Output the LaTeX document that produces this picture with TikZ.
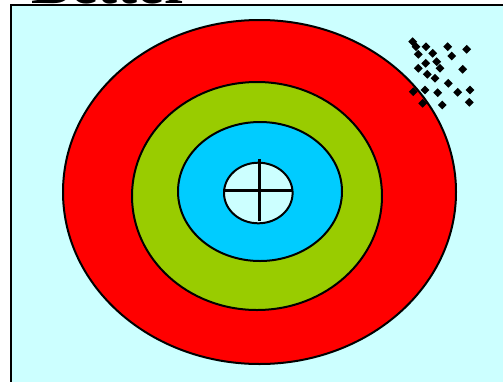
\documentclass[tikz,border=0pt]{standalone}
\usepackage{fontspec}
\setmainfont{Liberation Serif}
\usetikzlibrary{shapes.geometric}
\definecolor{bgcyan}{HTML}{CCFFFF}
\definecolor{ringred}{HTML}{FF0000}
\definecolor{ringgreen}{HTML}{99CC00}
\definecolor{ringblue}{HTML}{00CCFF}
\tikzset{
  ring/.style={draw=black, line width=2pt},
  shot/.style={diamond, fill=black, inner sep=0pt, minimum size=9pt},
  crossline/.style={draw=black, line width=2.6pt}
}
\begin{document}
\begin{tikzpicture}[x=1pt,y=-1pt]
\useasboundingbox (0,0) rectangle (503,381);
\fill[white] (0,0) rectangle (503,381);
\draw[fill=bgcyan, line width=2.5pt] (11,5) rectangle (520,400);
\node[anchor=base west, inner sep=0pt, font=\fontsize{60}{60}\selectfont\bfseries] (title) at (31,3.5) {Better};
\draw[ring, fill=ringred] (259.5,192) ellipse [x radius=196.5, y radius=172];
\draw[ring, fill=ringgreen] (257,196) ellipse [x radius=125, y radius=114];
\draw[ring, fill=ringblue] (260,191.5) ellipse [x radius=82, y radius=69.5];
\draw[ring, fill=bgcyan] (258.3,193) ellipse [x radius=34.3, y radius=30.3];
\coordinate (ct) at (259.3,159.3);
\coordinate (cb) at (259.3,220.7);
\coordinate (cl) at (223.3,190.7);
\coordinate (cr) at (292.7,190.7);
\draw[crossline] (ct) -- (cb);
\draw[crossline] (cl) -- (cr);
\foreach \x/\y [count=\i] in {412.7/41.7, 416/46.7, 418.3/54.3, 426/46.7, 447.7/46.7, 466.7/49.3, 432.7/53.3, 451.7/56, 425.7/63.3, 436.7/61.7, 440/68.3, 418.3/68.3, 462.7/69.3, 427.3/74.3, 435/78.3, 448.3/83.3, 425/90, 413.3/91.7, 437.7/92.7, 457.7/92.3, 470/90, 422.7/103.3, 442.3/105, 469.3/102.3}
  \node[shot] (d\i) at (\x,\y) {};
\end{tikzpicture}
\end{document}
